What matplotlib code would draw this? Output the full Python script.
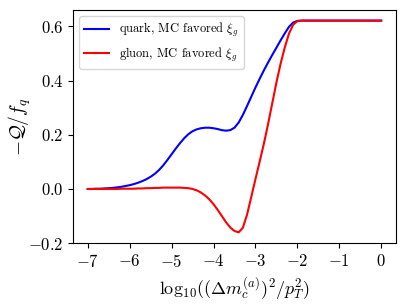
import numpy as np
import matplotlib
matplotlib.use("Agg")
import matplotlib.pyplot as plt

plt.rcParams['mathtext.fontset'] = 'cm'
plt.rcParams['font.family'] = 'serif'
plt.rcParams['font.serif'] = ['cmr10']
plt.rcParams['axes.formatter.use_mathtext'] = True

# log10 grid, step 0.1 from -7 to -1.8, then flat up to 0
x_vals = [round(-7.0 + 0.1 * i, 2) for i in range(53)] + [-1.5, -1.0, -0.5, 0.0]

quark = [0.000, 0.000, 0.001, 0.001, 0.002, 0.003, 0.004, 0.006, 0.008, 0.011,
         0.014, 0.018, 0.023, 0.029, 0.036, 0.045, 0.056, 0.070, 0.087, 0.107,
         0.128, 0.149, 0.169, 0.187, 0.202, 0.213, 0.220, 0.224, 0.226, 0.226,
         0.224, 0.221, 0.217, 0.215, 0.217, 0.226, 0.245, 0.273, 0.306, 0.340,
         0.374, 0.406, 0.437, 0.466, 0.494, 0.521, 0.548, 0.574, 0.598, 0.614,
         0.620, 0.621, 0.621, 0.621, 0.621, 0.621, 0.621]

gluon = [0.000, 0.000, 0.000, 0.000, 0.000, 0.000, 0.000, 0.000, 0.001, 0.001,
         0.001, 0.001, 0.002, 0.002, 0.003, 0.003, 0.004, 0.004, 0.005, 0.005,
         0.005, 0.005, 0.005, 0.004, 0.003, 0.000, -0.005, -0.013, -0.024, -0.038,
         -0.056, -0.077, -0.100, -0.123, -0.142, -0.155, -0.160, -0.143, -0.095, -0.030,
         0.036, 0.100, 0.166, 0.238, 0.315, 0.392, 0.462, 0.522, 0.573, 0.606,
         0.619, 0.621, 0.621, 0.621, 0.621, 0.621, 0.621]

fig = plt.figure(figsize=(4.06, 3.04), dpi=100)
ax = fig.add_axes([0.18, 0.20, 0.795, 0.767])

ax.plot(x_vals, quark, color='blue', lw=1.5, label=r'quark, MC favored $\xi_g$')
ax.plot(x_vals, gluon, color='red', lw=1.5, label=r'gluon, MC favored $\xi_g$')

ax.set_xticks([-7, -6, -5, -4, -3, -2, -1, 0])
ax.set_yticks([-0.2, 0.0, 0.2, 0.4, 0.6])
ax.tick_params(labelsize=12)
ax.set_xlabel(r'$\mathrm{log}_{10}((\Delta m_c^{(a)})^2/p_T^2)$', fontsize=13)
ax.set_ylabel(r'$-\mathcal{Q}/f_q$', fontsize=14)
ax.yaxis.set_label_coords(-0.125, 0.5)
ax.legend(loc='upper left', fontsize=9)

fig.savefig('out.png', dpi=100)
